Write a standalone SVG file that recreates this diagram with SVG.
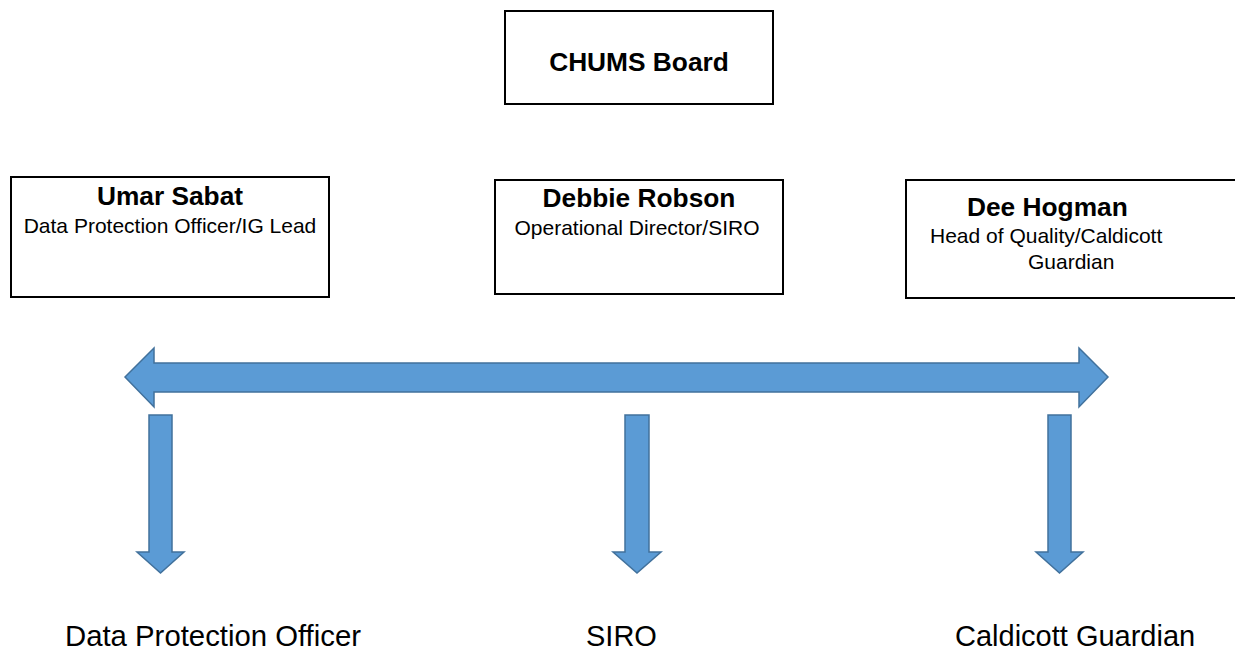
<svg xmlns="http://www.w3.org/2000/svg" width="1235" height="650" viewBox="0 0 1235 650">
<style>
.box{fill:#fff;stroke:#000;stroke-width:2}
.arrow{fill:#5B9BD5;stroke:#41719C;stroke-width:1.5;stroke-linejoin:miter}
.name{font-family:"Liberation Sans",Arial,sans-serif;font-weight:bold;font-size:26.3px;fill:#000}
.role{font-family:"Liberation Sans",Arial,sans-serif;font-size:21px;fill:#000}
.label{font-family:"Liberation Sans",Arial,sans-serif;font-size:29px;fill:#000}
</style>
<rect width="1235" height="650" fill="#fff"/>
<g id="board">
<rect class="box" x="505" y="11" width="268" height="93"/>
<text class="name" x="639" y="71" text-anchor="middle">CHUMS Board</text>
</g>
<g id="umar">
<rect class="box" x="11" y="177" width="318" height="120"/>
<text class="name" x="170" y="205" text-anchor="middle">Umar Sabat</text>
<text class="role" x="170" y="233" text-anchor="middle">Data Protection Officer/IG Lead</text>
</g>
<g id="debbie">
<rect class="box" x="495" y="180" width="288" height="114"/>
<text class="name" x="639" y="207" text-anchor="middle">Debbie Robson</text>
<text class="role" x="637" y="235" text-anchor="middle">Operational Director/SIRO</text>
</g>
<g id="dee">
<rect class="box" x="906" y="180" width="340" height="118"/>
<text class="name" x="967" y="216">Dee Hogman</text>
<text class="role" x="930" y="243">Head of Quality/Caldicott</text>
<text class="role" x="1028" y="269">Guardian</text>
</g>
<g id="connectors">
<polygon class="arrow" points="125,377 154,348 154,363 1079,363 1079,348 1108,377 1079,407 1079,392 154,392 154,407"/>
<polygon class="arrow" points="149,415 172,415 172,552 184,552 160.5,573 137,552 149,552"/>
<polygon class="arrow" points="625,415 649,415 649,552 661,552 637,573 613,552 625,552"/>
<polygon class="arrow" points="1048,415 1071,415 1071,552 1083,552 1059.5,573 1036,552 1048,552"/>
</g>
<g id="dpo-label"><text class="label" x="65" y="646" textLength="296" lengthAdjust="spacingAndGlyphs">Data Protection Officer</text></g>
<g id="siro-label"><text class="label" x="586" y="646">SIRO</text></g>
<g id="caldicott-label"><text class="label" x="955" y="646">Caldicott Guardian</text></g>
</svg>
